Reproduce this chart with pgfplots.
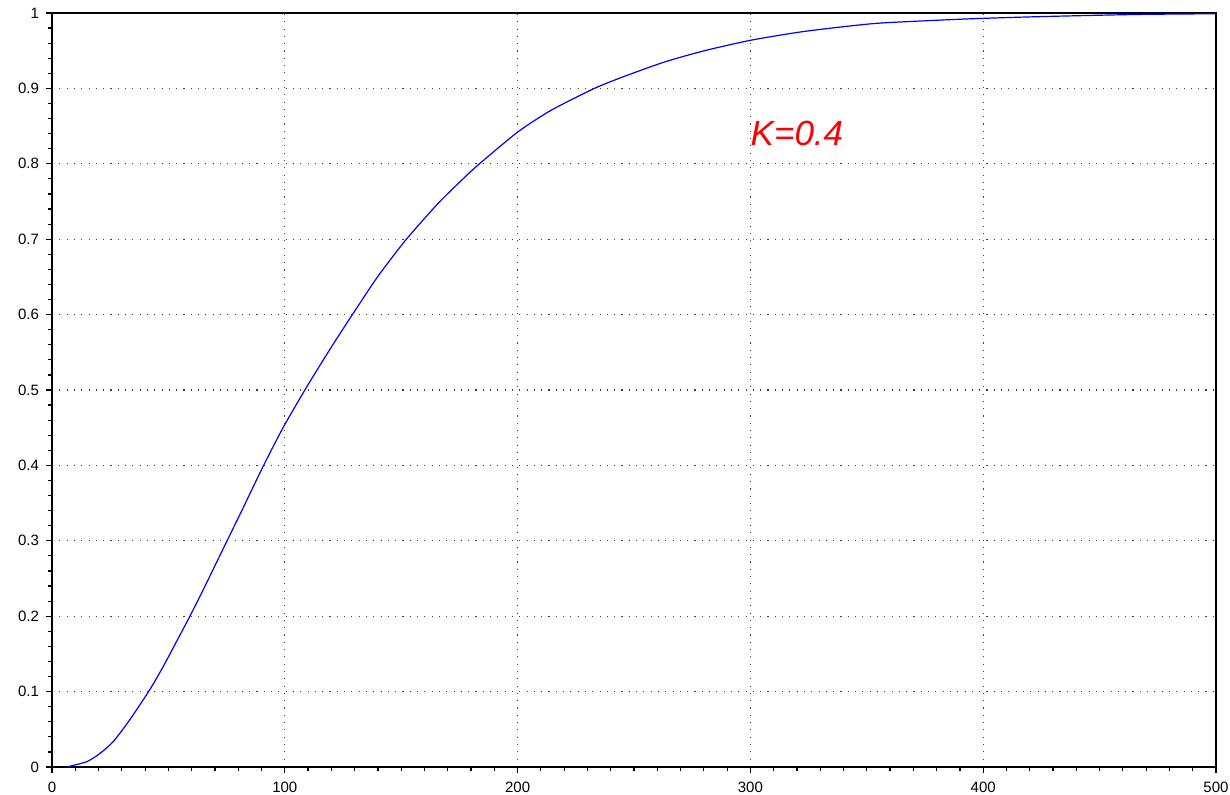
\documentclass[border=0pt]{standalone}
\usepackage{fontspec}
\setmainfont{Liberation Sans}
\usepackage{pgfplots}
\pgfplotsset{compat=1.18}

\begin{document}
\begin{tikzpicture}
\path[use as bounding box] (-26pt,-14pt) rectangle (589pt,383.5pt);
\begin{axis}[
    at={(0,0)}, anchor=south west,
    scale only axis,
    width=582pt, height=377pt,
    xmin=0, xmax=500, ymin=0, ymax=1,
    xtick={0,100,...,500},
    ytick={0,0.1,...,1},
    minor x tick num=9,
    minor y tick num=4,
    tick align=outside,
    xtick pos=left, ytick pos=left,
    major tick length=3pt,
    minor tick length=2pt,
    tick style={black, line width=0.6pt},
    axis line style={black, line width=0.8pt},
    grid=major,
    major grid style={black!75, line width=0.55pt, dash pattern=on 0.55pt off 3.1pt},
    font=\fontsize{7.5}{8.5}\selectfont,
    /pgf/number format/assume math mode=true,
    yticklabel style={/pgf/number format/fixed, /pgf/number format/precision=1},
    xticklabel style={yshift=-1pt},
]
\addplot[blue, line width=0.6pt, smooth, tension=0.4] coordinates {
    (6.3,0) (14.9,0.007) (20.6,0.018) (26.4,0.034) (33.5,0.063) (42.1,0.103)
    (47.9,0.134) (53.6,0.167) (59.4,0.201) (65.1,0.236) (75.2,0.300)
    (80.9,0.336) (90.9,0.400) (99.6,0.452) (109.6,0.505) (119.6,0.555)
    (128.2,0.596) (139.6,0.649) (151.7,0.698) (165.4,0.746) (174.2,0.773)
    (182.5,0.797) (200,0.842) (214.4,0.871) (233,0.900) (245.9,0.916)
    (263.1,0.935) (280.3,0.950) (300.4,0.964) (321.9,0.975) (343.4,0.983)
    (357.7,0.987) (392.2,0.992) (422.3,0.995) (465.3,0.998) (500,0.999)
};
\node[red, font=\fontsize{17.5}{20}\selectfont\itshape] at (axis cs:320,0.840) {K=0.4};
\end{axis}
\end{tikzpicture}
\end{document}
